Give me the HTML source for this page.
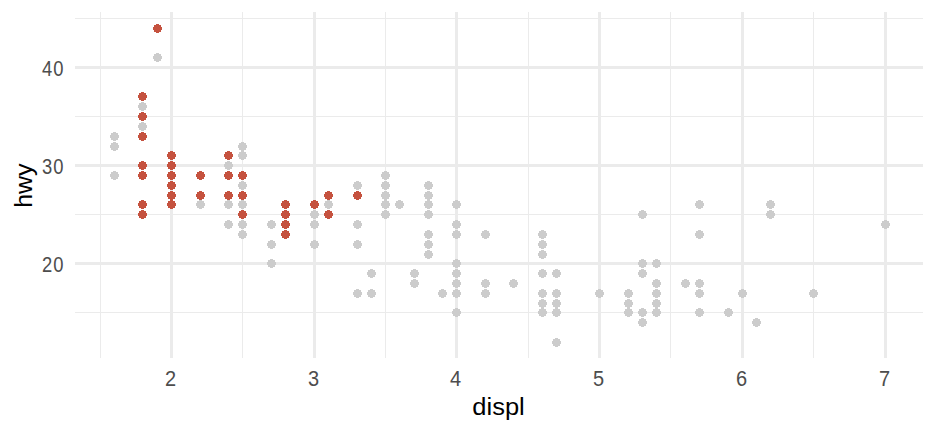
<!DOCTYPE html>
<html><head><meta charset="utf-8"><style>
html,body{margin:0;padding:0;background:#fff;width:936px;height:432px;overflow:hidden}
svg{display:block}
text{font-family:"Liberation Sans",sans-serif}
</style></head><body>
<svg width="936" height="432" viewBox="0 0 936 432" shape-rendering="crispEdges">
<rect width="936" height="432" fill="#fff"/>
<g fill="#EBEBEB"><rect x="75" y="312" width="848" height="1"/><rect x="75" y="214" width="848" height="1"/><rect x="75" y="116" width="848" height="1"/><rect x="75" y="18" width="848" height="1"/><rect x="100" y="12" width="1" height="346"/><rect x="242" y="12" width="1" height="346"/><rect x="385" y="12" width="1" height="346"/><rect x="528" y="12" width="1" height="346"/><rect x="670" y="12" width="1" height="346"/><rect x="813" y="12" width="1" height="346"/><rect x="75" y="66" width="848" height="3"/><rect x="75" y="164" width="848" height="3"/><rect x="75" y="262" width="848" height="3"/><rect x="170" y="12" width="3" height="346"/><rect x="313" y="12" width="3" height="346"/><rect x="455" y="12" width="3" height="346"/><rect x="598" y="12" width="3" height="346"/><rect x="741" y="12" width="3" height="346"/><rect x="884" y="12" width="3" height="346"/></g><path fill="#CCCCCC" d="M113,132h3v1h2v2h1v3h-1v2h-2v1h-3v-1h-2v-2h-1v-3h1v-2h2zM113,142h3v1h2v2h1v3h-1v2h-2v1h-3v-1h-2v-2h-1v-3h1v-2h2zM113,171h3v1h2v2h1v3h-1v2h-2v1h-3v-1h-2v-2h-1v-3h1v-2h2zM141,102h3v1h2v2h1v3h-1v2h-2v1h-3v-1h-2v-2h-1v-3h1v-2h2zM141,122h3v1h2v2h1v3h-1v2h-2v1h-3v-1h-2v-2h-1v-3h1v-2h2zM156,53h3v1h2v2h1v3h-1v2h-2v1h-3v-1h-2v-2h-1v-3h1v-2h2zM199,200h3v1h2v2h1v3h-1v2h-2v1h-3v-1h-2v-2h-1v-3h1v-2h2zM227,161h3v1h2v2h1v3h-1v2h-2v1h-3v-1h-2v-2h-1v-3h1v-2h2zM227,200h3v1h2v2h1v3h-1v2h-2v1h-3v-1h-2v-2h-1v-3h1v-2h2zM227,220h3v1h2v2h1v3h-1v2h-2v1h-3v-1h-2v-2h-1v-3h1v-2h2zM241,142h3v1h2v2h1v3h-1v2h-2v1h-3v-1h-2v-2h-1v-3h1v-2h2zM241,151h3v1h2v2h1v3h-1v2h-2v1h-3v-1h-2v-2h-1v-3h1v-2h2zM241,181h3v1h2v2h1v3h-1v2h-2v1h-3v-1h-2v-2h-1v-3h1v-2h2zM241,200h3v1h2v2h1v3h-1v2h-2v1h-3v-1h-2v-2h-1v-3h1v-2h2zM241,220h3v1h2v2h1v3h-1v2h-2v1h-3v-1h-2v-2h-1v-3h1v-2h2zM241,230h3v1h2v2h1v3h-1v2h-2v1h-3v-1h-2v-2h-1v-3h1v-2h2zM270,220h3v1h2v2h1v3h-1v2h-2v1h-3v-1h-2v-2h-1v-3h1v-2h2zM270,240h3v1h2v2h1v3h-1v2h-2v1h-3v-1h-2v-2h-1v-3h1v-2h2zM270,259h3v1h2v2h1v3h-1v2h-2v1h-3v-1h-2v-2h-1v-3h1v-2h2zM313,210h3v1h2v2h1v3h-1v2h-2v1h-3v-1h-2v-2h-1v-3h1v-2h2zM313,220h3v1h2v2h1v3h-1v2h-2v1h-3v-1h-2v-2h-1v-3h1v-2h2zM313,240h3v1h2v2h1v3h-1v2h-2v1h-3v-1h-2v-2h-1v-3h1v-2h2zM327,200h3v1h2v2h1v3h-1v2h-2v1h-3v-1h-2v-2h-1v-3h1v-2h2zM356,181h3v1h2v2h1v3h-1v2h-2v1h-3v-1h-2v-2h-1v-3h1v-2h2zM356,220h3v1h2v2h1v3h-1v2h-2v1h-3v-1h-2v-2h-1v-3h1v-2h2zM356,240h3v1h2v2h1v3h-1v2h-2v1h-3v-1h-2v-2h-1v-3h1v-2h2zM356,289h3v1h2v2h1v3h-1v2h-2v1h-3v-1h-2v-2h-1v-3h1v-2h2zM370,269h3v1h2v2h1v3h-1v2h-2v1h-3v-1h-2v-2h-1v-3h1v-2h2zM370,289h3v1h2v2h1v3h-1v2h-2v1h-3v-1h-2v-2h-1v-3h1v-2h2zM384,171h3v1h2v2h1v3h-1v2h-2v1h-3v-1h-2v-2h-1v-3h1v-2h2zM384,181h3v1h2v2h1v3h-1v2h-2v1h-3v-1h-2v-2h-1v-3h1v-2h2zM384,191h3v1h2v2h1v3h-1v2h-2v1h-3v-1h-2v-2h-1v-3h1v-2h2zM384,200h3v1h2v2h1v3h-1v2h-2v1h-3v-1h-2v-2h-1v-3h1v-2h2zM384,210h3v1h2v2h1v3h-1v2h-2v1h-3v-1h-2v-2h-1v-3h1v-2h2zM398,200h3v1h2v2h1v3h-1v2h-2v1h-3v-1h-2v-2h-1v-3h1v-2h2zM413,269h3v1h2v2h1v3h-1v2h-2v1h-3v-1h-2v-2h-1v-3h1v-2h2zM413,279h3v1h2v2h1v3h-1v2h-2v1h-3v-1h-2v-2h-1v-3h1v-2h2zM427,181h3v1h2v2h1v3h-1v2h-2v1h-3v-1h-2v-2h-1v-3h1v-2h2zM427,191h3v1h2v2h1v3h-1v2h-2v1h-3v-1h-2v-2h-1v-3h1v-2h2zM427,200h3v1h2v2h1v3h-1v2h-2v1h-3v-1h-2v-2h-1v-3h1v-2h2zM427,210h3v1h2v2h1v3h-1v2h-2v1h-3v-1h-2v-2h-1v-3h1v-2h2zM427,230h3v1h2v2h1v3h-1v2h-2v1h-3v-1h-2v-2h-1v-3h1v-2h2zM427,240h3v1h2v2h1v3h-1v2h-2v1h-3v-1h-2v-2h-1v-3h1v-2h2zM427,250h3v1h2v2h1v3h-1v2h-2v1h-3v-1h-2v-2h-1v-3h1v-2h2zM441,289h3v1h2v2h1v3h-1v2h-2v1h-3v-1h-2v-2h-1v-3h1v-2h2zM455,200h3v1h2v2h1v3h-1v2h-2v1h-3v-1h-2v-2h-1v-3h1v-2h2zM455,220h3v1h2v2h1v3h-1v2h-2v1h-3v-1h-2v-2h-1v-3h1v-2h2zM455,230h3v1h2v2h1v3h-1v2h-2v1h-3v-1h-2v-2h-1v-3h1v-2h2zM455,259h3v1h2v2h1v3h-1v2h-2v1h-3v-1h-2v-2h-1v-3h1v-2h2zM455,269h3v1h2v2h1v3h-1v2h-2v1h-3v-1h-2v-2h-1v-3h1v-2h2zM455,279h3v1h2v2h1v3h-1v2h-2v1h-3v-1h-2v-2h-1v-3h1v-2h2zM455,289h3v1h2v2h1v3h-1v2h-2v1h-3v-1h-2v-2h-1v-3h1v-2h2zM455,308h3v1h2v2h1v3h-1v2h-2v1h-3v-1h-2v-2h-1v-3h1v-2h2zM484,230h3v1h2v2h1v3h-1v2h-2v1h-3v-1h-2v-2h-1v-3h1v-2h2zM484,279h3v1h2v2h1v3h-1v2h-2v1h-3v-1h-2v-2h-1v-3h1v-2h2zM484,289h3v1h2v2h1v3h-1v2h-2v1h-3v-1h-2v-2h-1v-3h1v-2h2zM512,279h3v1h2v2h1v3h-1v2h-2v1h-3v-1h-2v-2h-1v-3h1v-2h2zM541,230h3v1h2v2h1v3h-1v2h-2v1h-3v-1h-2v-2h-1v-3h1v-2h2zM541,240h3v1h2v2h1v3h-1v2h-2v1h-3v-1h-2v-2h-1v-3h1v-2h2zM541,250h3v1h2v2h1v3h-1v2h-2v1h-3v-1h-2v-2h-1v-3h1v-2h2zM541,269h3v1h2v2h1v3h-1v2h-2v1h-3v-1h-2v-2h-1v-3h1v-2h2zM541,289h3v1h2v2h1v3h-1v2h-2v1h-3v-1h-2v-2h-1v-3h1v-2h2zM541,299h3v1h2v2h1v3h-1v2h-2v1h-3v-1h-2v-2h-1v-3h1v-2h2zM541,308h3v1h2v2h1v3h-1v2h-2v1h-3v-1h-2v-2h-1v-3h1v-2h2zM555,269h3v1h2v2h1v3h-1v2h-2v1h-3v-1h-2v-2h-1v-3h1v-2h2zM555,289h3v1h2v2h1v3h-1v2h-2v1h-3v-1h-2v-2h-1v-3h1v-2h2zM555,299h3v1h2v2h1v3h-1v2h-2v1h-3v-1h-2v-2h-1v-3h1v-2h2zM555,308h3v1h2v2h1v3h-1v2h-2v1h-3v-1h-2v-2h-1v-3h1v-2h2zM555,338h3v1h2v2h1v3h-1v2h-2v1h-3v-1h-2v-2h-1v-3h1v-2h2zM598,289h3v1h2v2h1v3h-1v2h-2v1h-3v-1h-2v-2h-1v-3h1v-2h2zM627,289h3v1h2v2h1v3h-1v2h-2v1h-3v-1h-2v-2h-1v-3h1v-2h2zM627,299h3v1h2v2h1v3h-1v2h-2v1h-3v-1h-2v-2h-1v-3h1v-2h2zM627,308h3v1h2v2h1v3h-1v2h-2v1h-3v-1h-2v-2h-1v-3h1v-2h2zM641,210h3v1h2v2h1v3h-1v2h-2v1h-3v-1h-2v-2h-1v-3h1v-2h2zM641,259h3v1h2v2h1v3h-1v2h-2v1h-3v-1h-2v-2h-1v-3h1v-2h2zM641,269h3v1h2v2h1v3h-1v2h-2v1h-3v-1h-2v-2h-1v-3h1v-2h2zM641,308h3v1h2v2h1v3h-1v2h-2v1h-3v-1h-2v-2h-1v-3h1v-2h2zM641,318h3v1h2v2h1v3h-1v2h-2v1h-3v-1h-2v-2h-1v-3h1v-2h2zM655,259h3v1h2v2h1v3h-1v2h-2v1h-3v-1h-2v-2h-1v-3h1v-2h2zM655,279h3v1h2v2h1v3h-1v2h-2v1h-3v-1h-2v-2h-1v-3h1v-2h2zM655,289h3v1h2v2h1v3h-1v2h-2v1h-3v-1h-2v-2h-1v-3h1v-2h2zM655,299h3v1h2v2h1v3h-1v2h-2v1h-3v-1h-2v-2h-1v-3h1v-2h2zM655,308h3v1h2v2h1v3h-1v2h-2v1h-3v-1h-2v-2h-1v-3h1v-2h2zM684,279h3v1h2v2h1v3h-1v2h-2v1h-3v-1h-2v-2h-1v-3h1v-2h2zM698,200h3v1h2v2h1v3h-1v2h-2v1h-3v-1h-2v-2h-1v-3h1v-2h2zM698,230h3v1h2v2h1v3h-1v2h-2v1h-3v-1h-2v-2h-1v-3h1v-2h2zM698,279h3v1h2v2h1v3h-1v2h-2v1h-3v-1h-2v-2h-1v-3h1v-2h2zM698,289h3v1h2v2h1v3h-1v2h-2v1h-3v-1h-2v-2h-1v-3h1v-2h2zM698,308h3v1h2v2h1v3h-1v2h-2v1h-3v-1h-2v-2h-1v-3h1v-2h2zM727,308h3v1h2v2h1v3h-1v2h-2v1h-3v-1h-2v-2h-1v-3h1v-2h2zM741,289h3v1h2v2h1v3h-1v2h-2v1h-3v-1h-2v-2h-1v-3h1v-2h2zM755,318h3v1h2v2h1v3h-1v2h-2v1h-3v-1h-2v-2h-1v-3h1v-2h2zM769,200h3v1h2v2h1v3h-1v2h-2v1h-3v-1h-2v-2h-1v-3h1v-2h2zM769,210h3v1h2v2h1v3h-1v2h-2v1h-3v-1h-2v-2h-1v-3h1v-2h2zM812,289h3v1h2v2h1v3h-1v2h-2v1h-3v-1h-2v-2h-1v-3h1v-2h2zM884,220h3v1h2v2h1v3h-1v2h-2v1h-3v-1h-2v-2h-1v-3h1v-2h2z"/><path fill="#C5523F" d="M141,92h3v1h2v2h1v3h-1v2h-2v1h-3v-1h-2v-2h-1v-3h1v-2h2zM141,112h3v1h2v2h1v3h-1v2h-2v1h-3v-1h-2v-2h-1v-3h1v-2h2zM141,132h3v1h2v2h1v3h-1v2h-2v1h-3v-1h-2v-2h-1v-3h1v-2h2zM141,161h3v1h2v2h1v3h-1v2h-2v1h-3v-1h-2v-2h-1v-3h1v-2h2zM141,171h3v1h2v2h1v3h-1v2h-2v1h-3v-1h-2v-2h-1v-3h1v-2h2zM141,200h3v1h2v2h1v3h-1v2h-2v1h-3v-1h-2v-2h-1v-3h1v-2h2zM141,210h3v1h2v2h1v3h-1v2h-2v1h-3v-1h-2v-2h-1v-3h1v-2h2zM156,24h3v1h2v2h1v3h-1v2h-2v1h-3v-1h-2v-2h-1v-3h1v-2h2zM170,151h3v1h2v2h1v3h-1v2h-2v1h-3v-1h-2v-2h-1v-3h1v-2h2zM170,161h3v1h2v2h1v3h-1v2h-2v1h-3v-1h-2v-2h-1v-3h1v-2h2zM170,171h3v1h2v2h1v3h-1v2h-2v1h-3v-1h-2v-2h-1v-3h1v-2h2zM170,181h3v1h2v2h1v3h-1v2h-2v1h-3v-1h-2v-2h-1v-3h1v-2h2zM170,191h3v1h2v2h1v3h-1v2h-2v1h-3v-1h-2v-2h-1v-3h1v-2h2zM170,200h3v1h2v2h1v3h-1v2h-2v1h-3v-1h-2v-2h-1v-3h1v-2h2zM199,171h3v1h2v2h1v3h-1v2h-2v1h-3v-1h-2v-2h-1v-3h1v-2h2zM199,191h3v1h2v2h1v3h-1v2h-2v1h-3v-1h-2v-2h-1v-3h1v-2h2zM227,151h3v1h2v2h1v3h-1v2h-2v1h-3v-1h-2v-2h-1v-3h1v-2h2zM227,171h3v1h2v2h1v3h-1v2h-2v1h-3v-1h-2v-2h-1v-3h1v-2h2zM227,191h3v1h2v2h1v3h-1v2h-2v1h-3v-1h-2v-2h-1v-3h1v-2h2zM241,171h3v1h2v2h1v3h-1v2h-2v1h-3v-1h-2v-2h-1v-3h1v-2h2zM241,191h3v1h2v2h1v3h-1v2h-2v1h-3v-1h-2v-2h-1v-3h1v-2h2zM241,210h3v1h2v2h1v3h-1v2h-2v1h-3v-1h-2v-2h-1v-3h1v-2h2zM284,200h3v1h2v2h1v3h-1v2h-2v1h-3v-1h-2v-2h-1v-3h1v-2h2zM284,210h3v1h2v2h1v3h-1v2h-2v1h-3v-1h-2v-2h-1v-3h1v-2h2zM284,220h3v1h2v2h1v3h-1v2h-2v1h-3v-1h-2v-2h-1v-3h1v-2h2zM284,230h3v1h2v2h1v3h-1v2h-2v1h-3v-1h-2v-2h-1v-3h1v-2h2zM313,200h3v1h2v2h1v3h-1v2h-2v1h-3v-1h-2v-2h-1v-3h1v-2h2zM327,191h3v1h2v2h1v3h-1v2h-2v1h-3v-1h-2v-2h-1v-3h1v-2h2zM327,210h3v1h2v2h1v3h-1v2h-2v1h-3v-1h-2v-2h-1v-3h1v-2h2zM356,191h3v1h2v2h1v3h-1v2h-2v1h-3v-1h-2v-2h-1v-3h1v-2h2z"/><g fill="#4D4D4D" font-size="20"><text transform="translate(170.5,385.7) scale(1,1.06)" text-anchor="middle">2</text><text transform="translate(313.5,385.7) scale(1,1.06)" text-anchor="middle">3</text><text transform="translate(455.5,385.7) scale(1,1.06)" text-anchor="middle">4</text><text transform="translate(598.5,385.7) scale(1,1.06)" text-anchor="middle">5</text><text transform="translate(741.5,385.7) scale(1,1.06)" text-anchor="middle">6</text><text transform="translate(884.5,385.7) scale(1,1.06)" text-anchor="middle">7</text><text transform="translate(64.4,271.7) scale(0.92,1.06)" text-anchor="end" letter-spacing="1.0">20</text><text transform="translate(64.4,173.7) scale(0.92,1.06)" text-anchor="end" letter-spacing="1.0">30</text><text transform="translate(64.4,75.7) scale(0.92,1.06)" text-anchor="end" letter-spacing="1.0">40</text></g><text transform="translate(498.5,415) scale(1.02,0.98)" text-anchor="middle" font-size="25" fill="#000">displ</text><text transform="translate(32,185.6) rotate(-90) scale(1,0.94)" text-anchor="middle" font-size="25" fill="#000">hwy</text>
</svg>
</body></html>
